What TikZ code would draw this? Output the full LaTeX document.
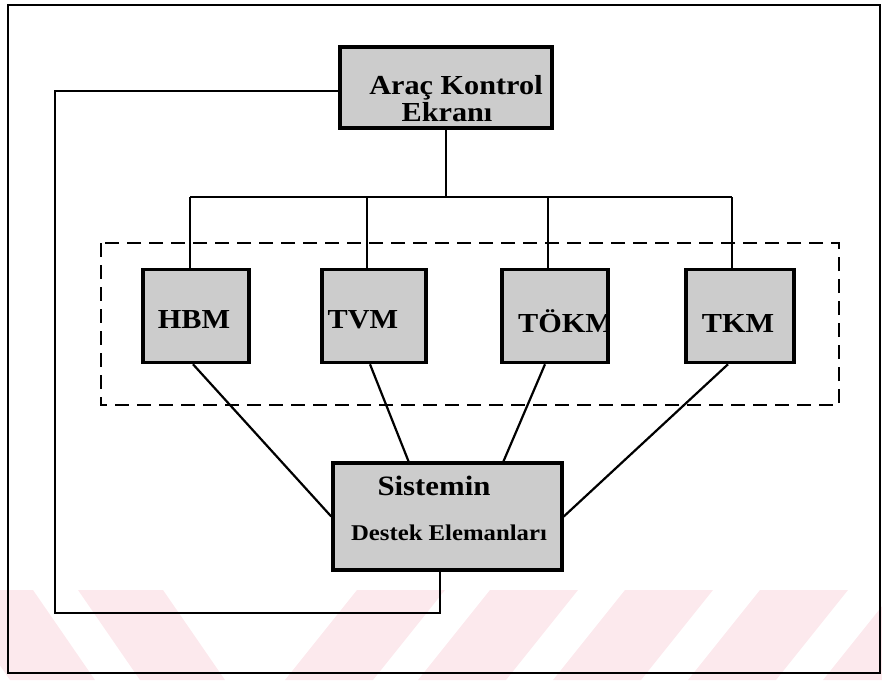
\documentclass[tikz,border=0pt]{standalone}
\usepackage{fontspec}
\setmainfont{Liberation Serif}
\newfontfamily\wfont[FakeStretch=1.1]{Liberation Serif}
\definecolor{wm}{RGB}{252,233,237}
\begin{document}
\begin{tikzpicture}[x=1pt,y=-1pt,
  box/.style={draw=black, line width=3.5pt, fill=black!20, inner sep=0pt},
  lbl/.style={inner sep=0pt, anchor=base, font=\wfont\bfseries\fontsize{27.5}{27.5}\selectfont},
  conn/.style={line width=2.2pt},
  frame/.style={line width=2.5pt},
  group/.style={line width=1.4pt, dash pattern=on 14pt off 8pt}]
\useasboundingbox (0,0) rectangle (882,680);
% watermark stripes
\begin{scope}
\clip (0,590) rectangle (882,680);
\foreach \a in {-52,78}{
  \fill[wm] (\a,590) -- (\a+85,590) -- (\a+147,680) -- (\a+62,680) -- cycle;}
\foreach \b in {357,490,625,760,895}{
  \fill[wm] (\b,590) -- (\b+88,590) -- (\b+16,680) -- (\b-72,680) -- cycle;}
\end{scope}
% outer frame
\draw[frame] (8,5) rectangle (880,673);
% group
\draw[group] (101,243) rectangle (839,405);
% boxes
\node[box, minimum width=212, minimum height=81] (ake) at (446,87.5) {};
\node[box, minimum width=106, minimum height=93] (hbm) at (196,316) {};
\node[box, minimum width=104, minimum height=93] (tvm) at (374,316) {};
\node[box, minimum width=106, minimum height=93] (tokm) at (555,316) {};
\node[box, minimum width=108, minimum height=93] (tkm) at (740,316) {};
\node[box, minimum width=229, minimum height=107] (sde) at (447.5,516.5) {};
% texts
\node[lbl] (akeA) at (456,94) {Araç Kontrol};
\node[lbl] (akeB) at (447,121) {Ekranı};
\node[lbl] (hbmT) at (194,328) {HBM};
\node[lbl] (tvmT) at (363,328) {TVM};
\begin{scope}
\clip ([shift={(-1.75pt,1.75pt)}]tokm.north west) rectangle ([shift={(-1.75pt,-1.75pt)}]tokm.south east);
\node[lbl, anchor=base west] (tokmT) at (518,332) {TÖKM};
\end{scope}
\node[lbl] (tkmT) at (738,332) {TKM};
\node[lbl, font=\wfont\bfseries\fontsize{28}{28}\selectfont] (sdeA) at (434,495) {Sistemin};
\node[lbl, font=\wfont\bfseries\fontsize{22.5}{22.5}\selectfont] (sdeB) at (449,540) {Destek Elemanları};
% bus
\coordinate (busL) at (190,197);
\coordinate (busR) at (732,197);
\coordinate (busM) at (446,197);
\draw[conn] (ake.south) -- (busM);
\draw[conn] (busL) -- (busR);
\draw[conn] (busL) -- (busL |- hbm.north);
\draw[conn] (367,197) -- (367,269.5);
\draw[conn] (548,197) -- (548,269.5);
\draw[conn] (busR) -- (busR |- tkm.north);
% diagonals
\draw[conn] ([xshift=-3pt]hbm.south) -- (sde.west);
\draw[conn] ([xshift=-4pt]tvm.south) -- ([xshift=-39pt]sde.north);
\draw[conn] ([xshift=-10pt]tokm.south) -- ([xshift=56pt]sde.north);
\draw[conn] ([xshift=-12pt]tkm.south) -- (sde.east);
% feedback loop
\coordinate (lt) at (55,91);
\coordinate (lb) at (55,613);
\coordinate (rb) at (440,613);
\draw[conn] (ake.west |- lt) -- (lt) -- (lb) -- (rb) -- (rb |- sde.south);
\end{tikzpicture}
\end{document}
